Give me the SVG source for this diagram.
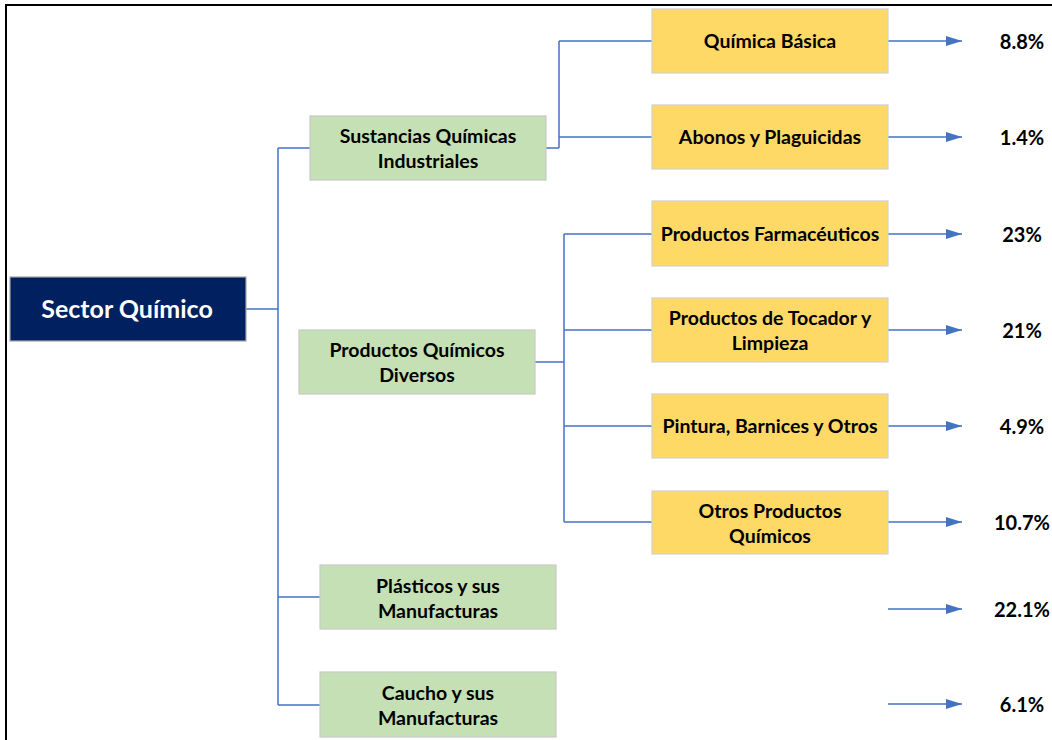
<svg xmlns="http://www.w3.org/2000/svg" width="1052" height="740" viewBox="0 0 1052 740">
<style>
.t{font-family:Lato,"Liberation Sans",sans-serif;font-weight:bold;font-size:19.5px;fill:#000;text-anchor:middle;dominant-baseline:central}
.g{fill:#C5E0B4;stroke:#C9C9C9;stroke-width:1.2}
.y{fill:#FFD966;stroke:#D0D0D0;stroke-width:1.2}
.c{fill:none;stroke:#4472C4;stroke-width:1.5}
.a{fill:none;stroke:#4472C4;stroke-width:1.5;marker-end:url(#ah)}
.p{font-family:Lato,"Liberation Sans",sans-serif;font-weight:bold;font-size:20px;fill:#000;text-anchor:middle;dominant-baseline:central}
</style>
<defs>
<marker id="ah" markerWidth="16" markerHeight="10" refX="16" refY="5" orient="auto" markerUnits="userSpaceOnUse">
<path d="M0,0 L16,5 L0,10 Z" fill="#4472C4"/>
</marker>
</defs>
<rect x="0" y="0" width="1052" height="740" fill="#fff"/>
<rect x="6" y="5" width="1100" height="800" fill="none" stroke="#000" stroke-width="2"/>
<g id="connectors">
<path class="c" d="M246,309 H278 M278,148 V705 M278,148 H310 M278,597 H320 M278,705 H320"/>
<path class="c" d="M546,148 H559 M559,41 V148 M559,41 H652 M559,137 H652"/>
<path class="c" d="M535,362 H564 M564,234 V522 M564,234 H652 M564,330 H652 M564,426 H652 M564,522 H652"/>
<path class="a" d="M888,41 H962"/>
<path class="a" d="M888,137 H962"/>
<path class="a" d="M888,234 H962"/>
<path class="a" d="M888,330 H962"/>
<path class="a" d="M888,426 H962"/>
<path class="a" d="M888,522 H962"/>
<path class="a" d="M888,609 H962"/>
<path class="a" d="M888,704 H962"/>
</g>
<g id="sector">
<rect x="10" y="277" width="236" height="64" fill="#002060" stroke="#A6A6A6" stroke-width="1.2"/>
<text class="t" x="127" y="308" style="fill:#fff;font-size:25px">Sector Químico</text>
</g>
<g id="sustancias">
<rect class="g" x="310" y="116" width="236" height="64"/>
<text class="t" x="428" y="135">Sustancias Químicas</text>
<text class="t" x="428" y="160">Industriales</text>
</g>
<g id="diversos">
<rect class="g" x="299" y="330" width="236" height="64"/>
<text class="t" x="417" y="349">Productos Químicos</text>
<text class="t" x="417" y="374">Diversos</text>
</g>
<g id="plasticos">
<rect class="g" x="320" y="565" width="236" height="64"/>
<text class="t" x="438" y="585">Plásticos y sus</text>
<text class="t" x="438" y="610">Manufacturas</text>
</g>
<g id="caucho">
<rect class="g" x="320" y="672" width="236" height="65"/>
<text class="t" x="438" y="692">Caucho y sus</text>
<text class="t" x="438" y="717">Manufacturas</text>
</g>
<g id="quimica-basica">
<rect class="y" x="652" y="9" width="236" height="64"/>
<text class="t" x="770" y="40.5">Química Básica</text>
</g>
<g id="abonos">
<rect class="y" x="652" y="105" width="236" height="64"/>
<text class="t" x="770" y="136.5">Abonos y Plaguicidas</text>
</g>
<g id="farmaceuticos">
<rect class="y" x="652" y="201" width="236" height="65"/>
<text class="t" x="770" y="233">Productos Farmacéuticos</text>
</g>
<g id="tocador">
<rect class="y" x="652" y="298" width="236" height="64"/>
<text class="t" x="770" y="317.5">Productos de Tocador y</text>
<text class="t" x="770" y="342">Limpieza</text>
</g>
<g id="pintura">
<rect class="y" x="652" y="394" width="236" height="64"/>
<text class="t" x="770" y="425.5">Pintura, Barnices y Otros</text>
</g>
<g id="otros">
<rect class="y" x="652" y="491" width="236" height="63"/>
<text class="t" x="770" y="510">Otros Productos</text>
<text class="t" x="770" y="535">Químicos</text>
</g>
<g id="percentages">
<text class="p" x="1022" y="41">8.8%</text>
<text class="p" x="1022" y="137">1.4%</text>
<text class="p" x="1022" y="234">23%</text>
<text class="p" x="1022" y="330">21%</text>
<text class="p" x="1022" y="426">4.9%</text>
<text class="p" x="1022" y="522">10.7%</text>
<text class="p" x="1022" y="609">22.1%</text>
<text class="p" x="1022" y="704">6.1%</text>
</g>
</svg>
